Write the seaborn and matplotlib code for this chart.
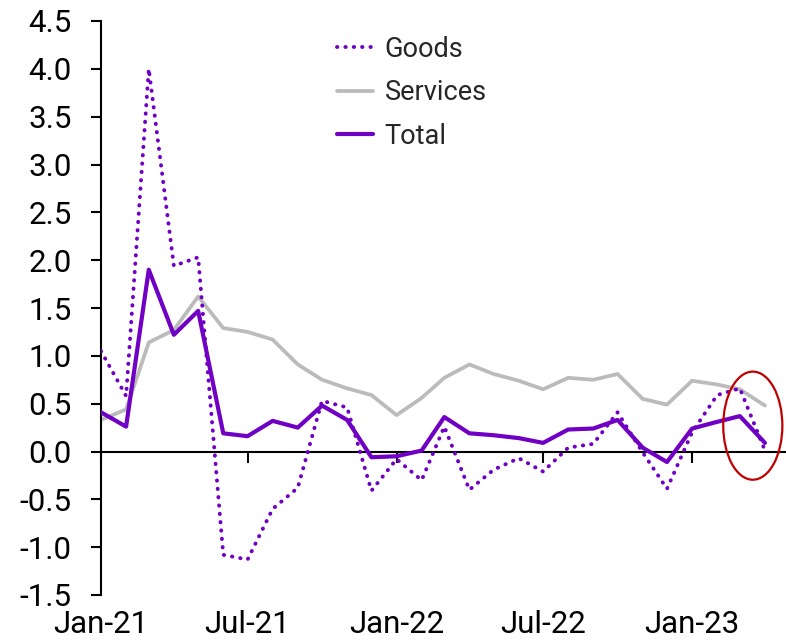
import matplotlib
matplotlib.use("Agg")
import matplotlib.pyplot as plt
import matplotlib.dates as mdates
from matplotlib.patches import Ellipse
import pandas as pd
import seaborn as sns

# ---- data (monthly, Jan-21 .. Apr-23) ----
start_month = "2021-01-01"
n_months = 28
goods = [1.05, 0.58, 4.00, 1.94, 2.03, -1.08, -1.13, -0.60, -0.38, 0.53, 0.46, -0.41,
         -0.08, -0.30, 0.26, -0.40, -0.19, -0.07, -0.21, 0.04, 0.08, 0.41, -0.01, -0.39,
         0.20, 0.59, 0.66, 0.01]
services = [0.33, 0.44, 1.14, 1.27, 1.62, 1.29, 1.25, 1.17, 0.91, 0.75, 0.66, 0.59,
            0.38, 0.56, 0.77, 0.91, 0.81, 0.74, 0.65, 0.77, 0.75, 0.81, 0.55, 0.49,
            0.74, 0.70, 0.65, 0.48]
total = [0.41, 0.26, 1.90, 1.22, 1.47, 0.19, 0.16, 0.32, 0.25, 0.48, 0.33, -0.06,
         -0.05, 0.01, 0.36, 0.19, 0.17, 0.14, 0.09, 0.23, 0.24, 0.33, 0.04, -0.11,
         0.24, 0.31, 0.37, 0.09]
xtick_dates = ["2021-01-01", "2021-07-01", "2022-01-01", "2022-07-01", "2023-01-01"]
xtick_labels = ["Jan-21", "Jul-21", "Jan-22", "Jul-22", "Jan-23"]
yticks = [-1.5, -1.0, -0.5, 0.0, 0.5, 1.0, 1.5, 2.0, 2.5, 3.0, 3.5, 4.0, 4.5]

months = pd.date_range(start_month, periods=n_months, freq="MS")
df = pd.DataFrame({"date": months, "Goods": goods, "Services": services, "Total": total})

sns.set_theme(style="white")
plt.rcParams["font.family"] = ["Roboto", "DejaVu Sans"]
plt.rcParams["axes.unicode_minus"] = False

PURPLE = "#7000C4"
GREY = "#BBBBBB"

fig = plt.figure(figsize=(7.86, 6.43), dpi=100)
ax = fig.add_axes([101 / 786, 1 - 595 / 643, 1 - 101 / 786, (595 - 21) / 643])

sns.lineplot(data=df, x="date", y="Goods", ax=ax, color=PURPLE, linewidth=2.8,
             linestyle=(0, (0.1, 2.05)), dash_capstyle="round", label="Goods", zorder=3)
sns.lineplot(data=df, x="date", y="Services", ax=ax, color=GREY, linewidth=2.7,
             label="Services", zorder=2)
sns.lineplot(data=df, x="date", y="Total", ax=ax, color=PURPLE, linewidth=3.0,
             label="Total", zorder=4)

ax.set_xlim(pd.Timestamp("2021-01-01"), pd.Timestamp("2023-04-27"))
ax.set_ylim(-1.5, 4.5)
ax.set_yticks(yticks)
ax.set_yticklabels([f"{v:.1f}" for v in yticks])
ax.set_xlabel("")
ax.set_ylabel("")

for s in ["top", "right"]:
    ax.spines[s].set_visible(False)
ax.spines["left"].set_linewidth(1.5)
ax.spines["left"].set_color("black")
ax.spines["bottom"].set_position(("data", 0))
ax.spines["bottom"].set_linewidth(1.5)
ax.spines["bottom"].set_color("black")

xt = [pd.Timestamp(d) for d in xtick_dates]
ax.set_xticks(xt)
ax.tick_params(axis="x", direction="out", length=8, width=1.5, color="black",
               labelbottom=False, bottom=True)
ax.tick_params(axis="y", direction="out", length=7, width=1.5, color="black",
               left=True, labelsize=22.5, pad=14, labelcolor="black")

sec = ax.secondary_xaxis("bottom")
sec.set_xticks(xt)
sec.set_xticklabels(xtick_labels)
sec.tick_params(axis="x", length=0, pad=11, labelsize=22.5, labelcolor="black")
for s in sec.spines.values():
    s.set_visible(False)

leg = ax.legend(loc="upper left", bbox_to_anchor=((337 - 101) / 685, 0.9745),
                frameon=False, fontsize=19.5, handlelength=1.33, handletextpad=0.42,
                labelspacing=0.61, borderpad=0, borderaxespad=0)

# highlight ellipse around the latest data
cx = mdates.date2num(pd.Timestamp("2023-03-17"))
ell = Ellipse((cx, 0.27), width=73, height=1.13, fill=False, edgecolor="#C00000",
              linewidth=1.6, clip_on=False, zorder=5)
ax.add_patch(ell)

fig.savefig("out.png", dpi=100)
